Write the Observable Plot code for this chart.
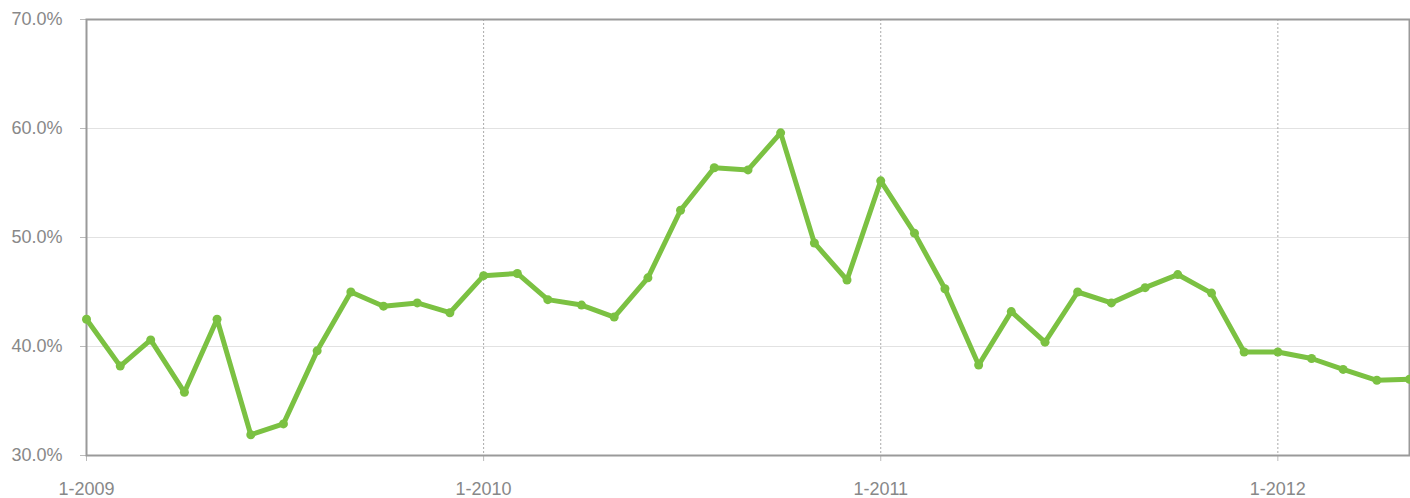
<!DOCTYPE html>
<html>
<head>
<meta charset="utf-8">
<script src="https://cdn.jsdelivr.net/npm/d3@7"></script>
<script src="https://cdn.jsdelivr.net/npm/@observablehq/plot@0.6"></script>
<style>
  html, body { margin: 0; padding: 0; background: #fff; }
  #chart svg { display: block; }
  #chart svg g[aria-label$="tick label"] text { font-size: 18px !important; fill: #888; }
</style>
</head>
<body>
<div id="chart"></div>
<script>
const months = [
  "2009-01","2009-02","2009-03","2009-04","2009-05","2009-06","2009-07","2009-08","2009-09","2009-10","2009-11","2009-12",
  "2010-01","2010-02","2010-03","2010-04","2010-05","2010-06","2010-07","2010-08","2010-09","2010-10","2010-11","2010-12",
  "2011-01","2011-02","2011-03","2011-04","2011-05","2011-06","2011-07","2011-08","2011-09","2011-10","2011-11","2011-12",
  "2012-01","2012-02","2012-03","2012-04","2012-05"
];
const values = [
  42.5, 38.2, 40.6, 35.8, 42.5, 31.9, 32.9, 39.6, 45.0, 43.7, 44.0, 43.1,
  46.5, 46.7, 44.3, 43.8, 42.7, 46.3, 52.5, 56.4, 56.2, 59.6, 49.5, 46.1,
  55.2, 50.4, 45.3, 38.3, 43.2, 40.4, 45.0, 44.0, 45.4, 46.6, 44.9, 39.5,
  39.5, 38.9, 37.9, 36.9, 37.0
];
const yTicks = [30, 40, 50, 60, 70];
const yGrid = [40, 50, 60];
const xTickLabels = ["1-2009", "1-2010", "1-2011", "1-2012"];
const xTickMonths = ["2009-01", "2010-01", "2011-01", "2012-01"];

const parse = d3.utcParse("%Y-%m");
const data = months.map((m, i) => ({date: parse(m), value: values[i]}));
const xTicks = xTickMonths.map(parse);
const labelOf = new Map(xTicks.map((d, i) => [+d, xTickLabels[i]]));

const green = "#7bc142";

const chart = Plot.plot({
  width: 1410,
  height: 498,
  marginLeft: 86,
  marginRight: 1,
  marginTop: 19,
  marginBottom: 43,
  style: {fontFamily: "'Liberation Sans', Arial, sans-serif", fontSize: "18px", color: "#888"},
  x: {type: "utc", domain: [parse(months[0]), parse(months[months.length - 1])], label: null},
  y: {domain: [30, 70], label: null},
  marks: [
    Plot.ruleY(yGrid, {stroke: "#e2e2e2", strokeWidth: 1.2}),
    Plot.ruleX(xTicks.slice(1), {stroke: "#aaa", strokeWidth: 1, strokeDasharray: "2,2"}),
    Plot.axisY({ticks: yTicks, tickSize: 6, tickPadding: 18, tickFormat: d => d.toFixed(1) + "%", stroke: "#bbb", fill: "#888", fontSize: 18, label: null}),
    Plot.axisX({ticks: xTicks, tickSize: 6, tickPadding: 21, tickFormat: d => labelOf.get(+d), stroke: "#bbb", fill: "#888", fontSize: 18, label: null}),
    Plot.frame({stroke: "#9a9a9a", strokeWidth: 2}),
    Plot.line(data, {x: "date", y: "value", stroke: green, strokeWidth: 5, strokeLinejoin: "round", strokeLinecap: "round"}),
    Plot.dot(data, {x: "date", y: "value", fill: green, r: 4.5})
  ]
});
document.getElementById("chart").appendChild(chart);
</script>
</body>
</html>
